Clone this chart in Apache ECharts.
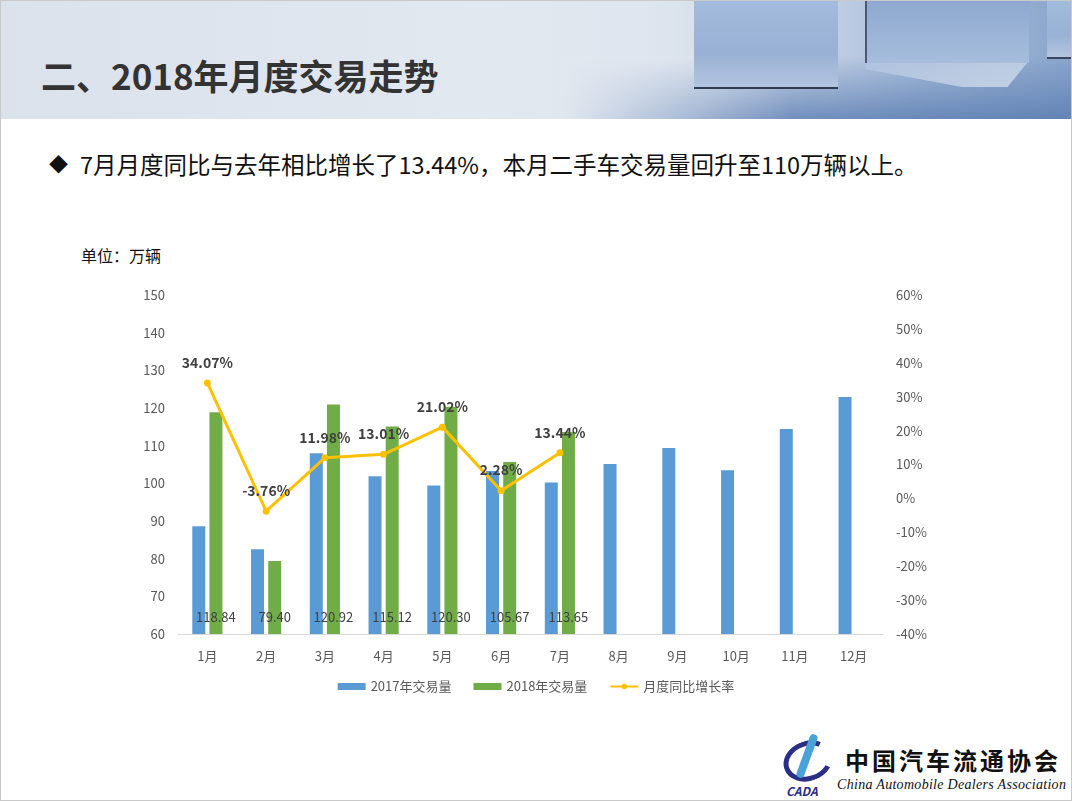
<!DOCTYPE html>
<html>
<head>
<meta charset="utf-8">
<script src="https://cdn.jsdelivr.net/npm/echarts@6/dist/echarts.min.js"></script>
<style>
html,body{margin:0;padding:0;width:1072px;height:801px;overflow:hidden;background:#fff;font-family:"Noto Sans CJK SC","Noto Sans",sans-serif;}
#slide{position:absolute;left:0;top:0;width:1070px;height:799px;border:1px solid #c9c9c9;background:#fff;overflow:hidden;}
#banner{position:absolute;left:0;top:0;width:1072px;height:118px;
 background:linear-gradient(90deg,#dbe2ec 0%,#e2e8f0 45%,#dfe6ef 60%,#cfdae8 72%,#a9bedb 85%,#8aa5cb 100%);}
#floor{position:absolute;left:560px;top:55px;width:512px;height:63px;
 background:linear-gradient(180deg,rgba(120,150,195,0) 0%,rgba(85,120,175,0.75) 100%);}
#floor2{position:absolute;left:560px;top:55px;width:512px;height:63px;
 background:linear-gradient(90deg,rgba(226,232,240,1) 0%,rgba(226,232,240,0) 45%);}
.cube{position:absolute;top:0;background:linear-gradient(180deg,#a3bbdc 0%,#98b1d4 60%,#b3c5df 100%);}
#c1{left:693px;width:144px;height:86px;border-bottom:2px solid #2e3b50;}
#c2{left:864px;width:162px;height:62px;background:linear-gradient(180deg,#8ea9d0 0%,#a6bddc 100%);border-left:2px solid #4a5870;}
#c2b{position:absolute;left:864px;top:62px;width:162px;height:24px;background:linear-gradient(160deg,#b0c3de 0%,#c1d0e4 100%);clip-path:polygon(0 0,100% 0,88% 100%,60% 100%,0 25%);}
#c3{left:1046px;width:26px;height:56px;border-bottom:2px solid #3a475c;}
#title{position:absolute;left:40px;top:50px;font-size:35px;line-height:48px;font-weight:bold;color:#333;}
#bullet{position:absolute;left:48px;top:147px;font-size:23.5px;line-height:32px;color:#111;white-space:nowrap;}
#bullet span.d{font-size:19px;margin-right:12px;position:relative;top:-2px;}
#unit{position:absolute;left:80px;top:242px;font-size:16px;color:#111;}
#chart{position:absolute;left:0;top:0;width:1072px;height:801px;}
#logo{position:absolute;left:780px;top:730px;width:292px;height:70px;}
#logo .cn{position:absolute;left:64px;top:14px;font-size:24px;line-height:30px;font-weight:bold;color:#111;letter-spacing:3px;white-space:nowrap;font-family:"Noto Sans CJK SC",serif;}
#logo .en{position:absolute;left:56px;top:46px;font-size:14px;font-style:italic;color:#111;font-family:"Liberation Serif",serif;white-space:nowrap;letter-spacing:0.3px;}
#logo .mark{position:absolute;left:2px;top:10px;width:40px;height:30px;border:5px solid #2b2f86;border-radius:50%;border-color:#2b2f86 transparent #2b2f86 #2b2f86;transform:rotate(-20deg);}
#logo .p{position:absolute;left:22px;top:2px;width:8px;height:46px;background:#4aa3d8;border-radius:4px;transform:rotate(20deg);}
#logo .cada{position:absolute;left:5px;top:51px;font-size:12px;font-weight:bold;font-style:italic;color:#2b2f86;}
</style>
</head>
<body>
<div id="slide">
 <div id="banner"></div>
 <div id="floor"></div>
 <div id="floor2"></div>
 <div id="c1" class="cube"></div>
 <div id="c2" class="cube"></div>
 <div id="c2b"></div>
 <div id="c3" class="cube"></div>
 <div id="title">二、2018年月度交易走势</div>
 <div id="bullet"><span class="d">◆</span>7月月度同比与去年相比增长了13.44%，本月二手车交易量回升至110万辆以上。</div>
 <div id="unit">单位：万辆</div>
 <div id="logo"><div class="mark"></div><div class="p"></div><div class="cada">CADA</div><div class="cn">中国汽车流通协会</div><div class="en">China Automobile Dealers Association</div></div>
</div>
<div id="chart"></div>
<script>
var months = ['1月','2月','3月','4月','5月','6月','7月','8月','9月','10月','11月','12月'];
var sales2017 = [88.6, 82.5, 108.0, 101.9, 99.4, 103.3, 100.2, 105.1, 109.4, 103.5, 114.4, 122.9];
var sales2018 = [118.84, 79.40, 120.92, 115.12, 120.30, 105.67, 113.65, null, null, null, null, null];
var growth = [34.07, -3.76, 11.98, 13.01, 21.02, 2.28, 13.44, null, null, null, null, null];
var leftTicks = {min: 60, max: 150, interval: 10};
var rightTicks = {min: -40, max: 60, interval: 10};

var chart = echarts.init(document.getElementById('chart'), null, {renderer: 'canvas'});
var font = '"Noto Sans CJK SC","Noto Sans",sans-serif';
chart.setOption({
  backgroundColor: 'transparent',
  textStyle: {fontFamily: font},
  animation: false,
  grid: {left: 178, right: 189, top: 295, bottom: 167, containLabel: false},
  legend: {
    bottom: 103, left: 'center', itemGap: 22, itemWidth: 28, itemHeight: 7,
    textStyle: {color: '#595959', fontSize: 13, fontFamily: font},
    data: [
      {name: '2017年交易量', icon: 'rect'},
      {name: '2018年交易量', icon: 'rect'},
      {name: '月度同比增长率'}
    ]
  },
  xAxis: {
    type: 'category', data: months,
    axisLine: {onZero: false, lineStyle: {color: '#d9d9d9', width: 1}},
    axisTick: {show: false},
    axisLabel: {color: '#595959', fontSize: 13, margin: 16}
  },
  yAxis: [
    {type: 'value', min: leftTicks.min, max: leftTicks.max, interval: leftTicks.interval,
     splitLine: {show: false}, axisLine: {show: false}, axisTick: {show: false},
     axisLabel: {color: '#595959', fontSize: 13, margin: 13}},
    {type: 'value', min: rightTicks.min, max: rightTicks.max, interval: rightTicks.interval,
     splitLine: {show: false}, axisLine: {show: false}, axisTick: {show: false},
     axisLabel: {color: '#595959', fontSize: 13, margin: 13, formatter: '{value}%'}}
  ],
  series: [
    {name: '2017年交易量', type: 'bar', data: sales2017, barWidth: 13, barGap: '32%',
     itemStyle: {color: '#5b9bd5'}},
    {name: '2018年交易量', type: 'bar', data: sales2018, barWidth: 13,
     itemStyle: {color: '#70ad47'},
     label: {show: true, position: 'insideBottom', distance: 10, color: '#404040', fontSize: 13,
       formatter: function (p) { return p.value == null ? '' : p.value.toFixed(2); }}},
    {name: '月度同比增长率', type: 'line', yAxisIndex: 1, data: growth,
     symbol: 'circle', symbolSize: 7, connectNulls: false,
     lineStyle: {color: '#ffc000', width: 3}, itemStyle: {color: '#ffc000'},
     label: {show: true, position: 'top', distance: 10, color: '#404040', fontSize: 14, fontWeight: 'bold',
       formatter: function (p) { return p.value.toFixed(2) + '%'; }},
     z: 5}
  ]
});
</script>
</body>
</html>
